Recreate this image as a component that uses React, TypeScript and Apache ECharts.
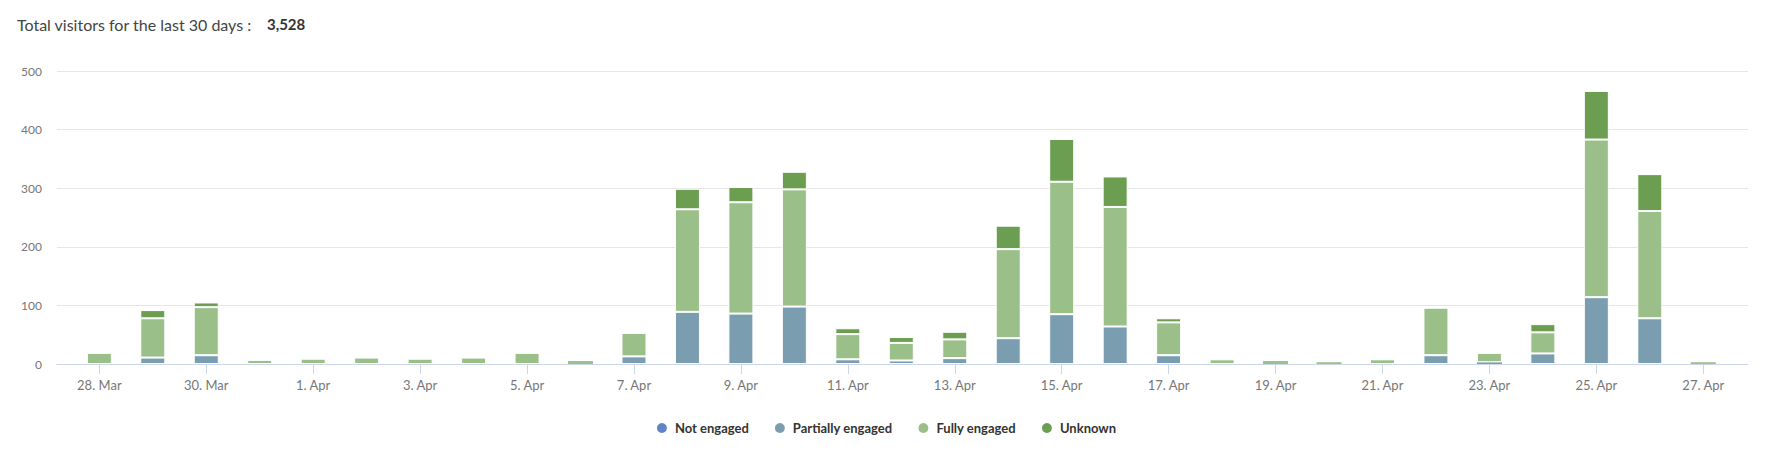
import React, { useEffect, useRef } from "react";
import * as echarts from "echarts";

const dayLabels = [
  "28. Mar", "29. Mar", "30. Mar", "31. Mar", "1. Apr", "2. Apr", "3. Apr", "4. Apr",
  "5. Apr", "6. Apr", "7. Apr", "8. Apr", "9. Apr", "10. Apr", "11. Apr", "12. Apr",
  "13. Apr", "14. Apr", "15. Apr", "16. Apr", "17. Apr", "18. Apr", "19. Apr", "20. Apr",
  "21. Apr", "22. Apr", "23. Apr", "24. Apr", "25. Apr", "26. Apr", "27. Apr",
];
const notEngaged = [0, 0, 0, 0, 0, 0, 0, 0, 0, 0, 0, 0, 0, 0, 0, 0, 0, 0, 0, 0, 0, 0, 0, 0, 0, 0, 0, 0, 0, 0, 0];
const partiallyEngaged = [0, 11, 15, 0, 0, 0, 0, 0, 0, 0, 13, 89, 86, 98, 8, 6, 10, 44, 85, 64, 15, 0, 0, 0, 0, 15, 3, 18, 114, 78, 0];
const fullyEngaged = [19, 67, 82, 7, 9, 11, 9, 11, 19, 5, 40, 175, 190, 200, 43, 30, 32, 152, 226, 204, 56, 8, 5, 3, 8, 81, 16, 36, 269, 183, 3];
const unknown = [0, 14, 8, 0, 0, 0, 0, 0, 0, 0, 0, 35, 26, 30, 10, 10, 13, 40, 73, 52, 7, 0, 0, 0, 0, 0, 0, 14, 83, 63, 0];
const yTicks = [0, 100, 200, 300, 400, 500];
const totalVisitors = "3,528";

const seriesNames = ["Not engaged", "Partially engaged", "Fully engaged", "Unknown"];
const seriesColors = ["#6384c4", "#7b9db0", "#9bbf88", "#6b9e51"];
const seriesValues = [notEngaged, partiallyEngaged, fullyEngaged, unknown];

const FONT = "Lato, 'Noto Sans', sans-serif";

export default function App() {
  const ref = useRef<HTMLDivElement>(null);
  useEffect(() => {
    if (!ref.current) return;
    const chart = echarts.init(ref.current, undefined, { renderer: "svg" });
    const yMin = yTicks[0];
    const yMax = yTicks[yTicks.length - 1];
    chart.setOption({
      animation: false,
      textStyle: { fontFamily: FONT },
      title: {
        left: 12,
        top: 11,
        text: "Total visitors for the last 30 days :{b|" + totalVisitors + "}",
        textStyle: {
          fontFamily: FONT,
          fontSize: 16,
          fontWeight: "normal",
          color: "#444",
          rich: {
            b: { fontFamily: FONT, fontSize: 15, fontWeight: "bold", color: "#333", padding: [0, 0, 0, 15] },
          },
        },
      },
      legend: {
        top: 416,
        left: "center",
        icon: "circle",
        itemWidth: 12,
        itemHeight: 12,
        itemGap: 24,
        data: seriesNames,
        textStyle: { fontFamily: FONT, fontSize: 13, fontWeight: "bold", color: "#333", padding: [0, 0, 0, 2] },
      },
      grid: [
        { left: 57, right: 23, top: 71, bottom: 95, containLabel: false },
        { left: 72.6, right: 41, top: 71, bottom: 95, containLabel: false },
      ],
      xAxis: [
        {
          gridIndex: 0,
          type: "value",
          min: 0,
          max: 1,
          splitLine: { show: false },
          axisLine: { show: true, lineStyle: { color: "#ccd6eb" } },
          axisTick: { show: false },
          axisLabel: { show: false },
        },
        {
          gridIndex: 1,
          type: "category",
          data: dayLabels,
          axisLine: { show: false },
          axisTick: { show: true, length: 10, interval: 1, alignWithLabel: true, lineStyle: { color: "#ccd6eb" } },
          axisLabel: { interval: 1, margin: 14, fontSize: 13, color: "#777", fontFamily: FONT },
        },
      ],
      yAxis: [
        {
          gridIndex: 0,
          type: "value",
          min: yMin,
          max: yMax,
          interval: 100,
          axisLine: { show: false },
          axisTick: { show: false },
          splitLine: { lineStyle: { color: "#e6e6e6" } },
          axisLabel: { margin: 15, fontSize: 12, color: "#777", fontFamily: FONT },
        },
        {
          gridIndex: 1,
          type: "value",
          min: yMin,
          max: yMax,
          interval: 100,
          show: false,
          splitLine: { show: false },
        },
      ],
      series: seriesNames.map((name, si) => ({
        name,
        type: "bar",
        stack: "total",
        xAxisIndex: 1,
        yAxisIndex: 1,
        barWidth: 25,
        color: seriesColors[si],
        itemStyle: { color: seriesColors[si], borderColor: "#fff", borderWidth: 1 },
        data: seriesValues[si].map((v) =>
          v === 0 ? "-" : v < 6 ? { value: v, itemStyle: { borderWidth: 0 } } : v
        ),
      })),
    });
    return () => chart.dispose();
  }, []);
  return <div ref={ref} style={{ position: "fixed", left: 0, top: 0, width: 1771, height: 459, background: "#fff" }} />;
}
